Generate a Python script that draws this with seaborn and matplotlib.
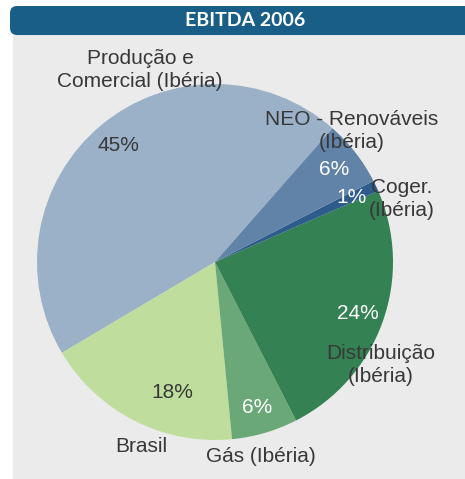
import matplotlib
matplotlib.use("Agg")
import matplotlib.pyplot as plt
from matplotlib.patches import FancyBboxPatch, Rectangle
import seaborn as sns

# dados EBITDA 2006 (%)
segmentos = ["Produção e\nComercial (Ibéria)", "Brasil", "Gás (Ibéria)",
             "Distribuição\n(Ibéria)", "Coger.\n(Ibéria)", "NEO - Renováveis\n(Ibéria)"]
valores = [45, 18, 6, 24, 1, 6]
cores = ["#9bb1c8", "#bfdd9c", "#6aa877", "#348153", "#2d5b8b", "#6283a8"]
cor_pct = ["#333333", "#333333", "white", "white", "white", "white"]

sns.set_theme(style="white")
plt.rcParams["font.family"] = ["Liberation Sans", "DejaVu Sans"]

fig = plt.figure(figsize=(4.65, 4.79), dpi=100)
W, H = 465, 479

# painel cinzento e cabeçalho (atrás do eixo)
fig.add_artist(Rectangle((13 / W, 0), 1, 1 - 35 / H, transform=fig.transFigure,
                         facecolor="#ebebeb", edgecolor="none", zorder=-2))
fig.add_artist(FancyBboxPatch((10 / W, 1 - 35 / H), 1.2, 29 / H,
                              boxstyle="round,pad=0,rounding_size=0.015",
                              transform=fig.transFigure, facecolor="#195e86",
                              edgecolor="none", zorder=-1))
fig.text(245 / W, 1 - 21 / H, "EBITDA 2006", color="white", fontsize=14,
         fontweight="bold", family=["Lato", "DejaVu Sans"], ha="center", va="center")

# eixo do gráfico: centro (215, 262) px, raio 178 px
cx, cy, r = 215, 262, 178
ax = fig.add_axes([(cx - r) / W, (H - cy - r) / H, 2 * r / W, 2 * r / H])
ax.set_facecolor("none")

wedges, labels, pcts = ax.pie(valores, labels=segmentos, colors=cores,
                              autopct="%d%%", pctdistance=0.85,
                              startangle=48.7, counterclock=True,
                              wedgeprops=dict(linewidth=0, edgecolor="none"),
                              textprops=dict(fontsize=15, color="#383838"))
ax.set_xlim(-1, 1)
ax.set_ylim(-1, 1)
ax.set_aspect("equal")
ax.axis("off")

# posição dos rótulos (px no painel)
pos_rotulos = [(140, 70), (141, 446), (261, 457), (381, 365), (402, 199), (352, 131)]
for t, (px, py) in zip(labels, pos_rotulos):
    t.set_position(((px - cx) / r, (cy - py) / r))
    t.set_ha("center")
    t.set_va("center")
    t.set_multialignment("center")
    t.set_linespacing(1.3)

for t, c in zip(pcts, cor_pct):
    t.set_color(c if c == "white" else "#383838")
    t.set_fontsize(15)
pcts[1].set_position(((172 - cx) / r, (cy - 393) / r))

fig.savefig("out.png", dpi=100, facecolor="white")
